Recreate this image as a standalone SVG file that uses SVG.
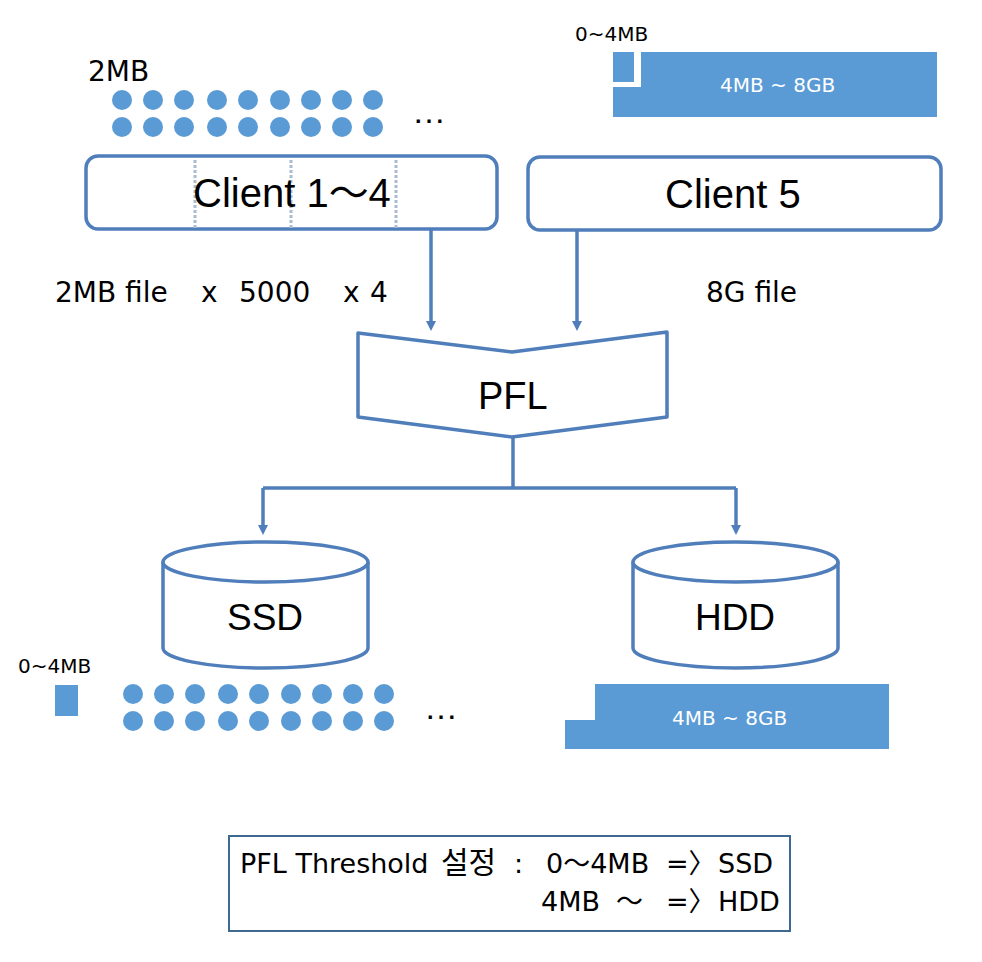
<svg xmlns="http://www.w3.org/2000/svg" width="982" height="962" viewBox="0 0 982 962">
<style>
.box{fill:#fff;stroke:#4F7EBA;stroke-width:3.5}
.t{font-family:"Liberation Sans","Noto Sans CJK KR",sans-serif;fill:#000}
.d{font-family:"DejaVu Sans","Noto Sans CJK KR",sans-serif;fill:#000}
.w{font-family:"DejaVu Sans",sans-serif;fill:#fff}
.dot{fill:#5B9BD5}
.bar{fill:#5B9BD5}
.con{fill:none;stroke:#4F7EBA;stroke-width:3.5}
.dash{stroke:#A9BCD0;stroke-width:3;stroke-dasharray:3 2}
</style>
<defs>
<marker id="ah" markerWidth="10" markerHeight="10" refX="5" refY="5" orient="auto" markerUnits="userSpaceOnUse"><path d="M0,0 L10,5 L0,10 z" fill="#4F7EBA"/></marker>
<g id="dots">
<circle cx="0" cy="0" r="10"/><circle cx="31" cy="0" r="10"/><circle cx="62" cy="0" r="10"/><circle cx="95" cy="0" r="10"/><circle cx="126" cy="0" r="10"/><circle cx="158" cy="0" r="10"/><circle cx="189" cy="0" r="10"/><circle cx="220" cy="0" r="10"/><circle cx="251" cy="0" r="10"/>
<circle cx="0" cy="27" r="10"/><circle cx="31" cy="27" r="10"/><circle cx="62" cy="27" r="10"/><circle cx="95" cy="27" r="10"/><circle cx="126" cy="27" r="10"/><circle cx="158" cy="27" r="10"/><circle cx="189" cy="27" r="10"/><circle cx="220" cy="27" r="10"/><circle cx="251" cy="27" r="10"/>
</g>
</defs>
<rect width="982" height="962" fill="#fff"/>

<g id="top-files">
<text class="d" x="88" y="81" font-size="28">2MB</text>
<use href="#dots" class="dot" x="122" y="100"/>
<text class="t" x="412" y="123" font-size="34">…</text>
<text class="d" x="575" y="41" font-size="20">0~4MB</text>
<rect class="bar" x="613" y="52" width="324" height="65"/>
<path d="M634,52 H641 V87 H613 V82 H634 Z" fill="#fff"/>
<text class="w" x="720" y="92" font-size="20">4MB ~ 8GB</text>
</g>

<g id="client14">
<rect class="box" x="86" y="156" width="411" height="73" rx="12"/>
<line class="dash" x1="195" y1="160" x2="195" y2="229"/>
<line class="dash" x1="291" y1="160" x2="291" y2="229"/>
<line class="dash" x1="396" y1="160" x2="396" y2="229"/>
<text class="t" x="193" y="207" font-size="40">Client 1～4</text>
</g>

<g id="client5">
<rect class="box" x="528" y="157" width="413" height="73" rx="12"/>
<text class="t" x="665" y="208" font-size="40">Client 5</text>
</g>

<g id="pfl">
<path class="box" d="M358,333 L512,352 L667,332 L667,417 L512,437 L358,417 Z" stroke-linejoin="round"/>
<text class="t" x="478" y="409" font-size="38">PFL</text>
</g>

<g id="ssd">
<path class="box" d="M163,562 V648 A102.5,20 0 0 0 368,648 V562"/>
<ellipse class="box" cx="265.5" cy="562" rx="102.5" ry="20"/>
<text class="t" x="265" y="630" font-size="37" text-anchor="middle">SSD</text>
</g>

<g id="hdd">
<path class="box" d="M633,562 V648 A102.5,20 0 0 0 838,648 V562"/>
<ellipse class="box" cx="735.5" cy="562" rx="102.5" ry="20"/>
<text class="t" x="735" y="630" font-size="37" text-anchor="middle">HDD</text>
</g>

<g id="bottom-files">
<text class="d" x="18" y="673" font-size="20">0~4MB</text>
<rect class="bar" x="55" y="685" width="23" height="31"/>
<use href="#dots" class="dot" x="133" y="694"/>
<text class="t" x="424" y="719" font-size="34">…</text>
<path class="bar" d="M595,684 H889 V749 H565 V720 H595 Z"/>
<text class="w" x="672" y="725" font-size="20">4MB ~ 8GB</text>
</g>

<g id="labels">
<text class="d" y="302" font-size="28"><tspan x="55">2MB file</tspan><tspan x="201">x</tspan><tspan x="239">5000</tspan><tspan x="343">x</tspan><tspan x="370">4</tspan></text>
<text class="d" x="706" y="302" font-size="28">8G file</text>
</g>

<g id="connectors">
<line class="con" x1="431" y1="229" x2="431" y2="326" marker-end="url(#ah)"/>
<line class="con" x1="577" y1="230" x2="577" y2="326" marker-end="url(#ah)"/>
<path class="con" d="M513,437 V488"/>
<path class="con" d="M263,488 H736"/>
<line class="con" x1="263" y1="488" x2="263" y2="530" marker-end="url(#ah)"/>
<line class="con" x1="736" y1="488" x2="736" y2="530" marker-end="url(#ah)"/>
</g>

<g id="legend">
<rect x="229" y="836" width="561" height="95" fill="#fff" stroke="#3E6A92" stroke-width="2"/>
<text class="d" y="873" font-size="27"><tspan x="240">PFL Threshold</tspan><tspan x="441" font-size="30">설정</tspan><tspan x="514">:</tspan><tspan x="546">0～4MB</tspan><tspan x="666">=〉</tspan><tspan x="718">SSD</tspan></text>
<text class="d" y="911" font-size="27"><tspan x="541">4MB</tspan><tspan x="616">～</tspan><tspan x="666">=〉</tspan><tspan x="718">HDD</tspan></text>
</g>
</svg>
